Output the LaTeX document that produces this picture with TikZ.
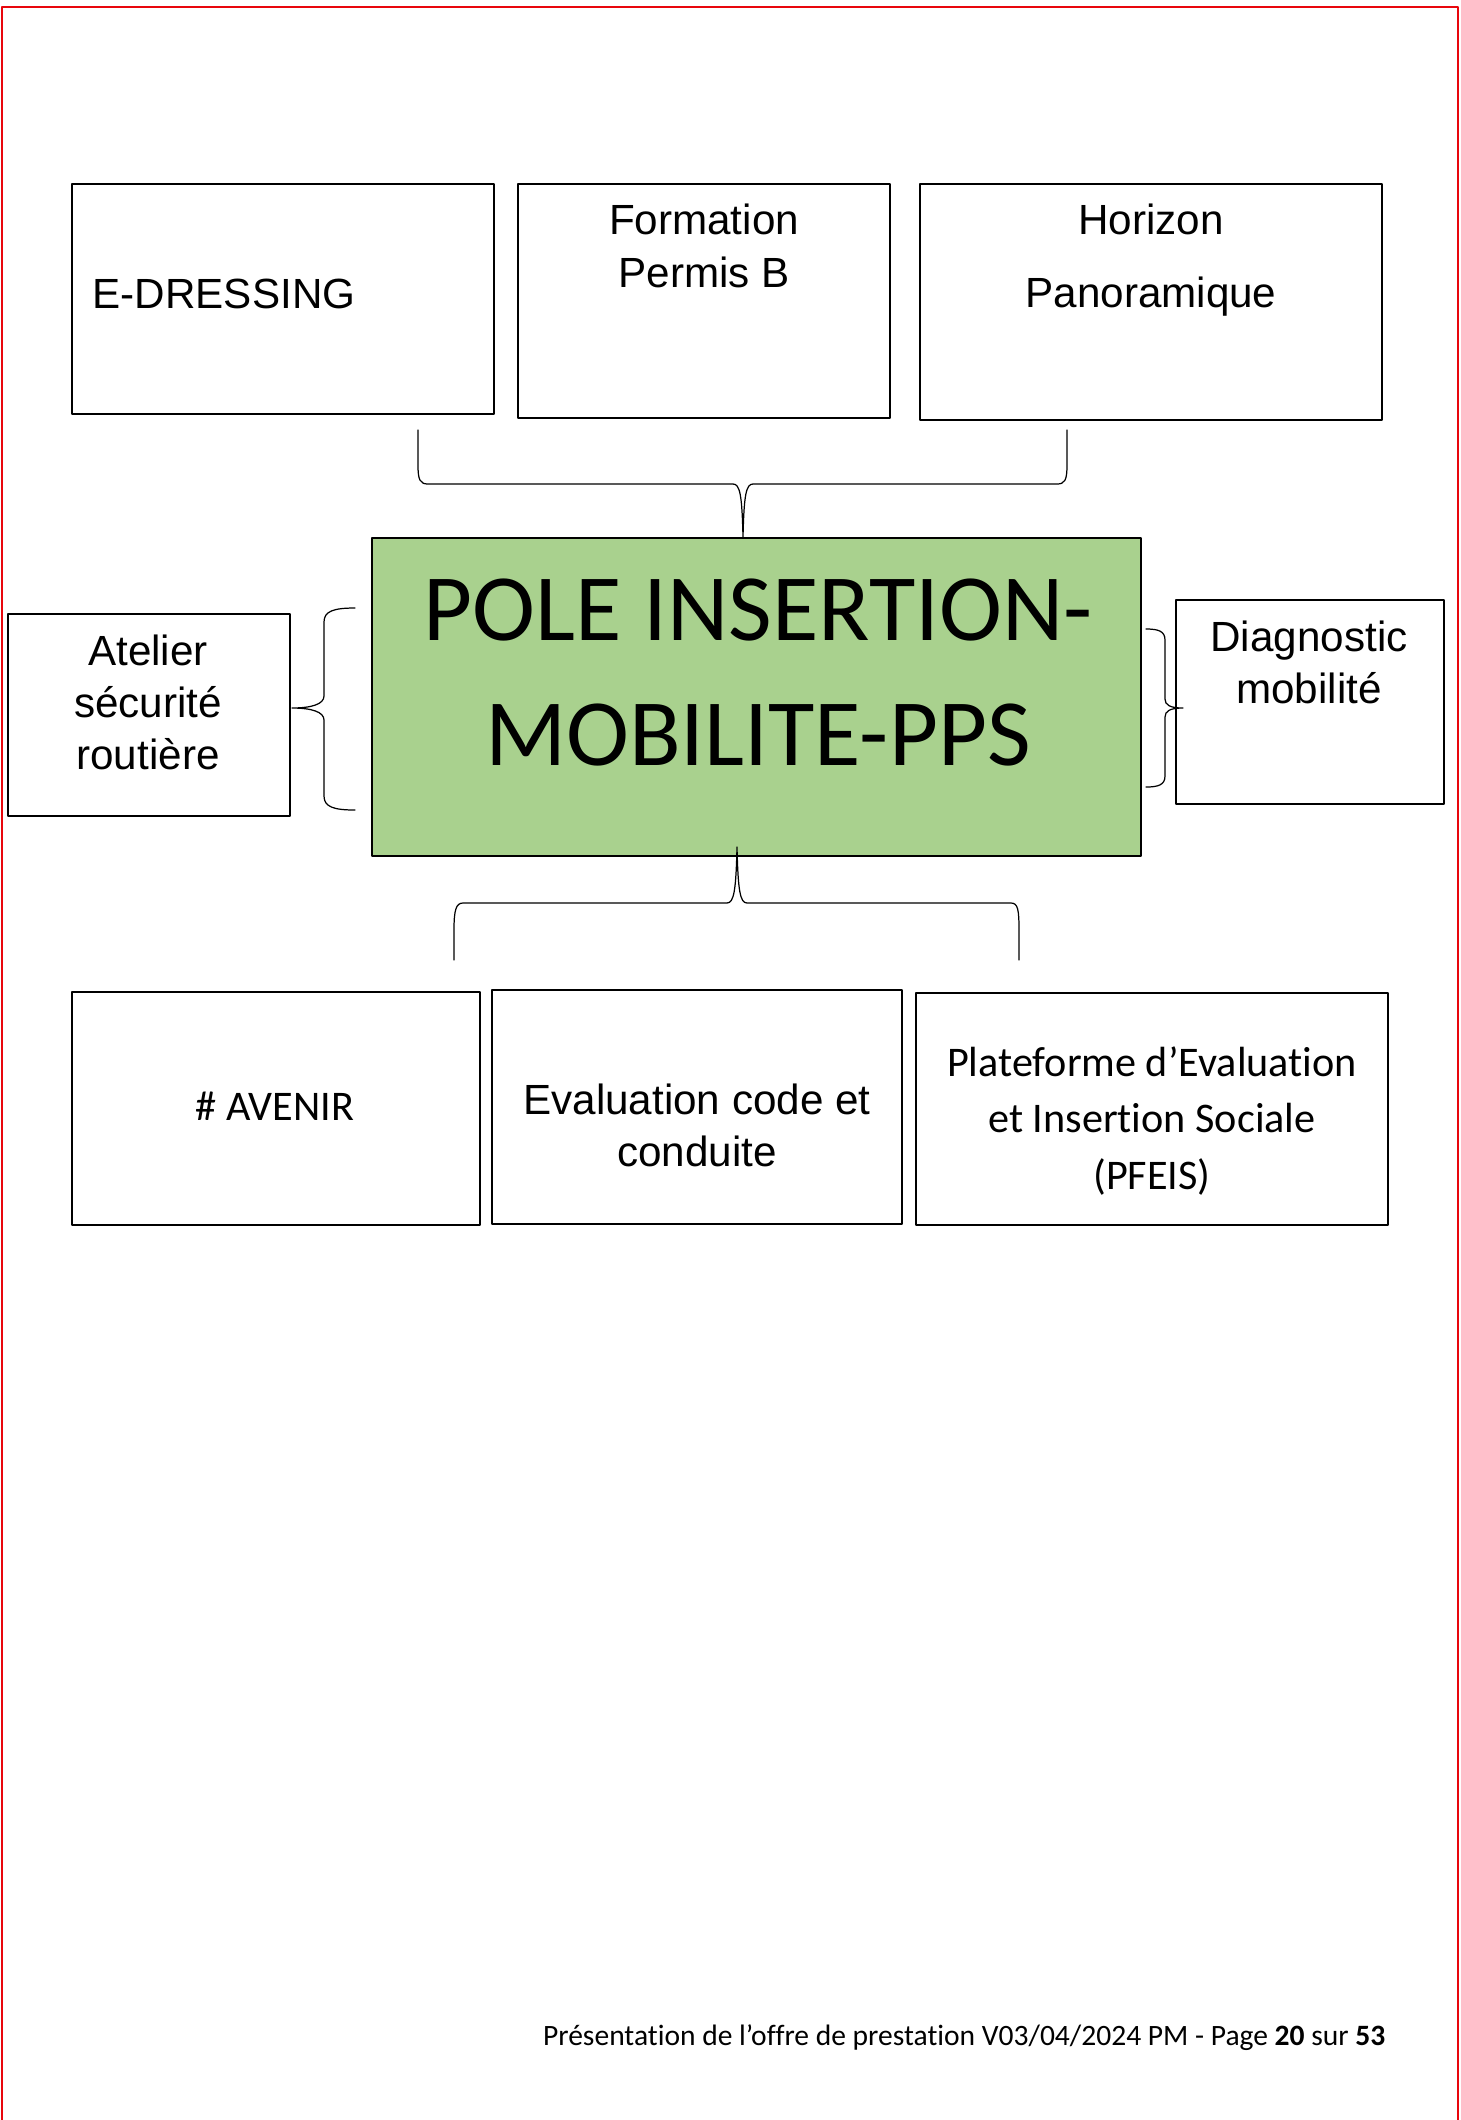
\documentclass[tikz,border=0pt]{standalone}
\usepackage{fontspec}
\usepackage{xcolor}
\usepackage{tikz}
\usetikzlibrary{positioning,calc}
\newfontfamily\arialfont{Liberation Sans}
\newfontfamily\calibrifont[Ligatures=NoCommon]{Carlito}
\definecolor{polegreen}{HTML}{A9D18E}
\definecolor{pagered}{HTML}{E8070D}

\tikzset{
  box/.style={draw=black, line width=0.45pt, inner sep=0pt},
  boxtxt/.style={inner sep=0pt, text width=#1, align=flush center, anchor=base},
  bracket/.style={draw=black, line width=0.35pt},
}

\begin{document}
\begin{tikzpicture}[line cap=round,line join=round,x=0.01cm,y=-0.01cm]
\useasboundingbox (0,0) rectangle (1461,2120);
%\draw[gray,very thin] (0,0) grid[step=100] (1461,2120);
% page frame
\draw[pagered, line width=0.5pt] (2,2120) -- (2,7) -- (1458,7) -- (1458,2120);

% 1st row
\node[box, minimum width=4.22cm, minimum height=2.30cm] (edressing) at (283,299) {};
\node[box, minimum width=3.72cm, minimum height=2.34cm] (formation) at (704,301) {};
\node[box, minimum width=4.62cm, minimum height=2.36cm] (horizon) at (1151,302) {};
\node[inner sep=0pt, anchor=base west, font=\arialfont\fontsize{12}{15}\selectfont] (edressingtxt) at (92,308) {E-DRESSING};
\node[boxtxt=3.5cm, font=\arialfont\fontsize{12}{15.2}\selectfont] (formationtxt) at (704,234) {Formation\\Permis B};
\node[boxtxt=4.4cm, font=\arialfont\fontsize{12}{21}\selectfont] (horizontxt) at (1151,234) {Horizon\\Panoramique};

% middle row
\node[box, fill=polegreen, minimum width=7.69cm, minimum height=3.18cm] (pole) at (756.5,697) {};
\node[boxtxt=7.5cm, font=\calibrifont\fontsize{27}{35.7}\selectfont] (poletxt) at (758,640) {POLE INSERTION-\\MOBILITE-PPS};
\node[box, minimum width=2.82cm, minimum height=2.02cm] (atelier) at (149,715) {};
\node[boxtxt=2.7cm, font=\arialfont\fontsize{12}{14.9}\selectfont] (ateliertxt) at (148,665) {Atelier\\sécurité\\routière};
\node[box, minimum width=2.68cm, minimum height=2.04cm] (diagnostic) at (1310,702) {};
\node[boxtxt=2.6cm, font=\arialfont\fontsize{12}{14.9}\selectfont] (diagnostictxt) at (1309,651) {Diagnostic\\mobilité};

% 3rd row
\node[box, minimum width=4.08cm, minimum height=2.33cm] (avenir) at (276,1108.5) {};
\node[boxtxt=4cm, font=\calibrifont\fontsize{12}{16}\selectfont] (avenirtxt) at (275,1120.5) {\# AVENIR};
\node[box, minimum width=4.10cm, minimum height=2.34cm] (evaluation) at (697,1107) {};
\node[boxtxt=4cm, font=\arialfont\fontsize{12}{14.8}\selectfont] (evaluationtxt) at (697,1114.6) {Evaluation code et\\conduite};
\node[box, minimum width=4.72cm, minimum height=2.32cm] (pfeis) at (1152,1109) {};
\node[boxtxt=4.6cm, font=\calibrifont\fontsize{12}{16}\selectfont] (pfeistxt) at (1152,1076.5) {Plateforme d’Evaluation\\et Insertion Sociale\\(PFEIS)};

% braces
\coordinate (topTip) at (743,537); \coordinate (leftTip) at (292,708); \coordinate (rightTip) at (1183,708); \coordinate (botTip) at (737,847);
\draw[bracket] (418,430) -- (418,465) .. controls (418,480) and (420,484) .. (428,484) -- (733,484) .. controls (740,484) and (742,495) .. (topTip)
  .. controls (744,495) and (746,484) .. (753,484) -- (1057,484) .. controls (1065,484) and (1067,480) .. (1067,465) -- (1067,430);
\draw[bracket] (355,608) .. controls (334,608) and (324,611) .. (324,622) -- (324,696) .. controls (324,704) and (312,708) .. (leftTip)
  .. controls (312,708) and (324,712) .. (324,720) -- (324,796) .. controls (324,807) and (334,810) .. (355,810);
\draw[bracket] (1146,629) .. controls (1158,629) and (1165,631) .. (1165,640) -- (1165,699) .. controls (1165,705) and (1170,708) .. (rightTip)
  .. controls (1170,708) and (1165,711) .. (1165,717) -- (1165,776) .. controls (1165,785) and (1158,787) .. (1146,787);
\draw[bracket] (454,960) -- (454,930) .. controls (454,910) and (456,903) .. (463,903) -- (727,903) .. controls (734,903) and (736,890) .. (botTip)
  .. controls (738,890) and (740,903) .. (747,903) -- (1011,903) .. controls (1018,903) and (1019,910) .. (1019,930) -- (1019,960);

% footer
\node[inner sep=0pt, anchor=base east, font=\calibrifont\fontsize{8.4}{10}\selectfont] (footer) at (1386,2045) {Présentation de l’offre de prestation V03/04/2024 PM - Page \textbf{20} sur \textbf{53}};
\end{tikzpicture}
\end{document}
